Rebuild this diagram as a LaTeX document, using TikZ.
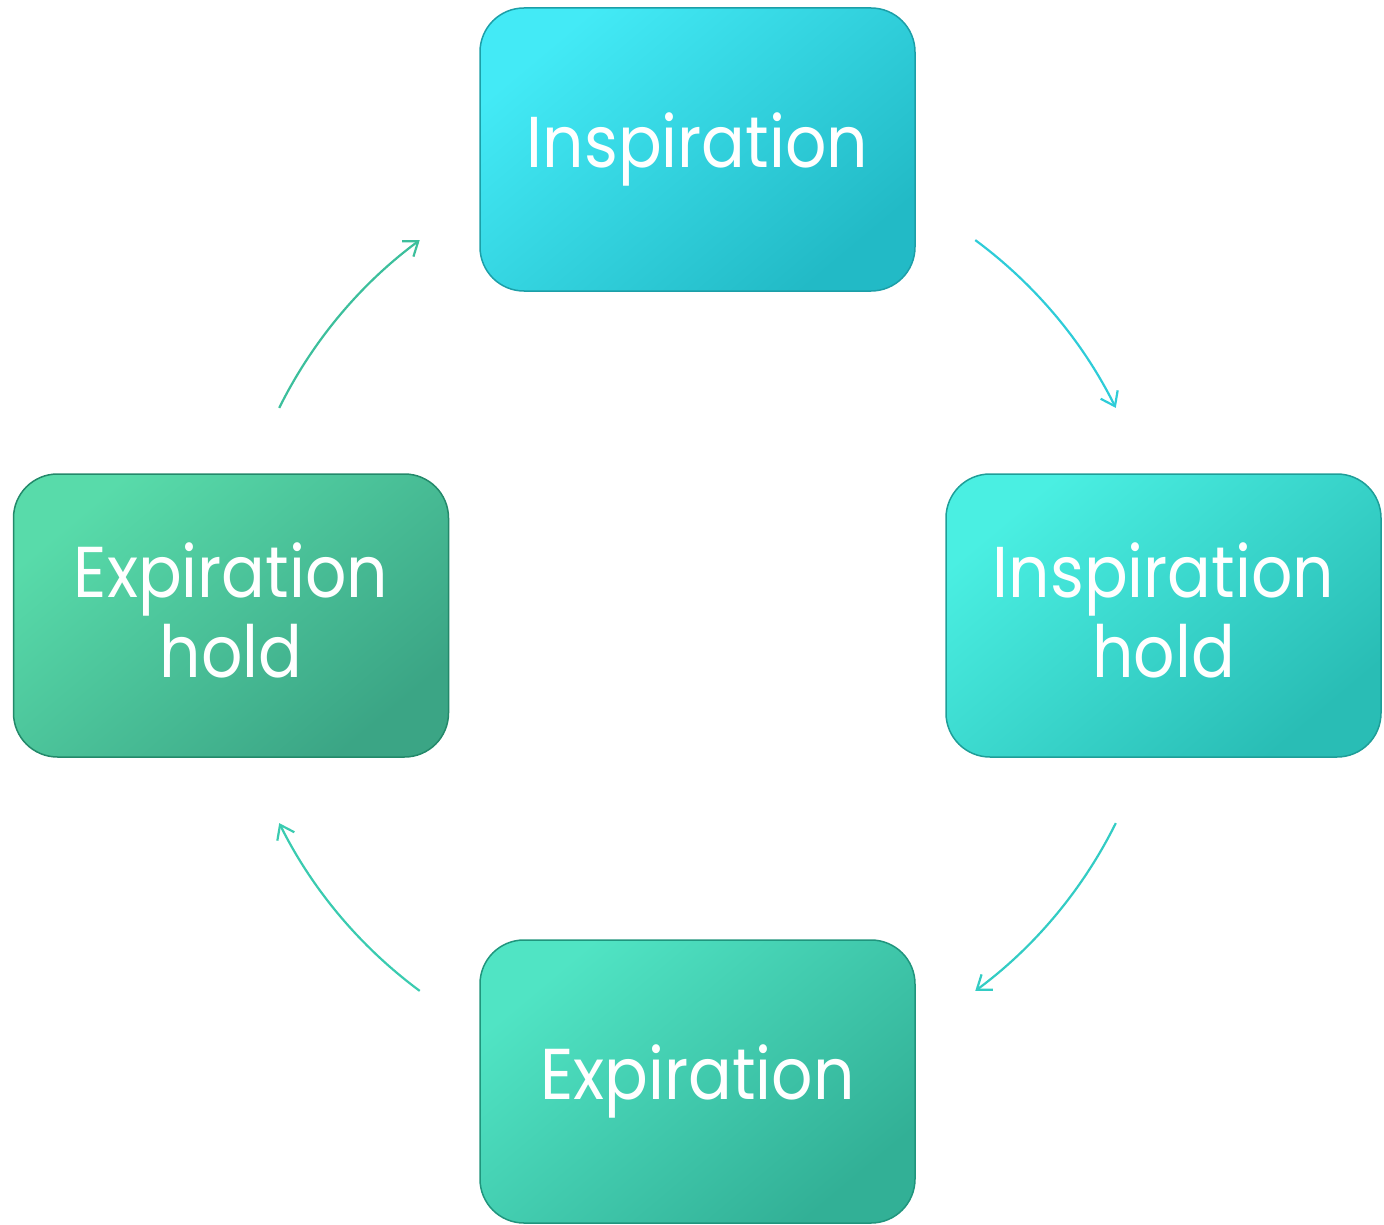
\documentclass[tikz,border=0pt]{standalone}
\usepackage{fontspec}
\setmainfont{Poppins}
\newfontfamily\boxfont[FakeStretch=0.9]{Poppins}
\usetikzlibrary{arrows.meta}

\definecolor{inspL}{HTML}{43EAF6}
\definecolor{inspD}{HTML}{22BAC6}
\definecolor{inspB}{HTML}{1C9FA8}
\definecolor{ihoL}{HTML}{4AEFE2}
\definecolor{ihoD}{HTML}{29BDB5}
\definecolor{ihoB}{HTML}{1E9E98}
\definecolor{expL}{HTML}{50E4C4}
\definecolor{expD}{HTML}{32B096}
\definecolor{expB}{HTML}{20957D}
\definecolor{ehoL}{HTML}{58DBAA}
\definecolor{ehoD}{HTML}{3BA585}
\definecolor{ehoB}{HTML}{23896A}
\definecolor{arA}{HTML}{2ECCD8}
\definecolor{arB}{HTML}{33CCC4}
\definecolor{arC}{HTML}{3ACBB0}
\definecolor{arD}{HTML}{3CBF9C}

\tikzset{
  phase/.style n args={3}{
    rectangle, rounded corners=44pt, minimum width=435pt, minimum height=283pt,
    inner sep=0pt, align=center, text=white,
    font=\boxfont\fontsize{72}{80}\selectfont,
    draw=#3, line width=1.5pt,
    left color=#1, right color=#2, shading angle=40
  },
  twolines/.style={text depth=10pt},
  cyclearrow/.style={line width=2.2pt, -{Straight Barb[length=13pt,width=19pt]}}
}

\begin{document}
\begin{tikzpicture}[x=1pt,y=-1pt]
  \useasboundingbox (0,0) rectangle (1384,1225);

  % the four phases of the breathing cycle
  \node[phase={inspL}{inspD}{inspB}] (insp) at (697.5,149.5) {Inspiration};
  \node[phase={ihoL}{ihoD}{ihoB}, twolines] (ihold) at (1163.5,615.5) {Inspiration\\hold};
  \node[phase={expL}{expD}{expB}] (exp) at (697.5,1081.5) {Expiration};
  \node[phase={ehoL}{ehoD}{ehoB}, twolines] (ehold) at (231,615.5) {Expiration\\hold};

  % arcs of one circle around the middle, linking the phases
  \coordinate (c) at (697.5,615.5);
  \path (c) ++(-53.5:467) coordinate (a1);
  \path (c) ++(26.4:467) coordinate (a2);
  \path (c) ++(126.5:467) coordinate (a3);
  \path (c) ++(206.4:467) coordinate (a4);

  \draw[cyclearrow, arA] (a1) arc[start angle=-53.5, end angle=-26.4, radius=467];
  \draw[cyclearrow, arB] (a2) arc[start angle=26.4, end angle=53.5, radius=467];
  \draw[cyclearrow, arC] (a3) arc[start angle=126.5, end angle=153.6, radius=467];
  \draw[cyclearrow, arD] (a4) arc[start angle=206.4, end angle=233.5, radius=467];
\end{tikzpicture}
\end{document}
